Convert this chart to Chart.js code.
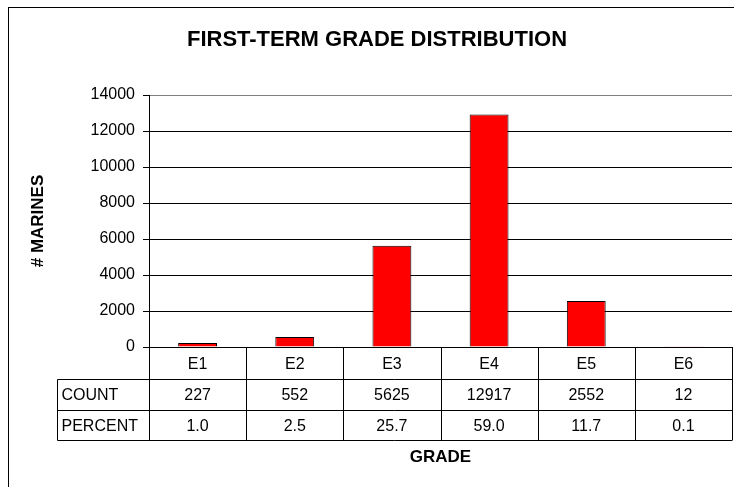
<!DOCTYPE html>
<html>
<head>
<meta charset="utf-8">
<script src="https://cdn.jsdelivr.net/npm/chart.js@4.4.1/dist/chart.umd.min.js"></script>
<style>
  html, body { margin: 0; padding: 0; background: #ffffff; }
  #wrap { position: relative; width: 734px; height: 487px; }
</style>
</head>
<body>
<div id="wrap"><canvas id="gradeChart" width="734" height="487"></canvas></div>
<script>
// data
const grades = ['E1', 'E2', 'E3', 'E4', 'E5', 'E6'];
const counts = [227, 552, 5625, 12917, 2552, 12];
const percents = ['1.0', '2.5', '25.7', '59.0', '11.7', '0.1'];
const rowLabels = ['COUNT', 'PERCENT'];
const yTicks = [0, 2000, 4000, 6000, 8000, 10000, 12000, 14000];

const FONT = '"Liberation Sans", Arial, sans-serif';

// draws title, axis titles, frame and the data table under the plot
const tablePlugin = {
    id: 'dataTable',
    afterDraw(chart) {
        const ctx = chart.ctx;
        const area = chart.chartArea;
        const xs = chart.scales.x;
        const n = grades.length;
        const colW = (area.right - area.left) / n;
        const labelLeft = 57.5;
        const rowTops = [area.bottom, 379.5, 410.5, 440.5];

        ctx.save();
        ctx.strokeStyle = '#000';
        ctx.lineWidth = 1;

        // outer frame (cut off at right/bottom like the picture)
        ctx.strokeRect(8.5, 7.5, 800, 600);

        // table lines
        ctx.beginPath();
        ctx.moveTo(labelLeft, rowTops[1]); ctx.lineTo(area.right, rowTops[1]);
        ctx.moveTo(labelLeft, rowTops[2]); ctx.lineTo(area.right, rowTops[2]);
        ctx.moveTo(labelLeft, rowTops[3]); ctx.lineTo(area.right, rowTops[3]);
        ctx.moveTo(labelLeft, rowTops[1]); ctx.lineTo(labelLeft, rowTops[3]);
        for (let i = 0; i <= n; i++) {
            const x = Math.round(area.left + i * colW) + 0.5;
            ctx.moveTo(x, area.bottom); ctx.lineTo(x, rowTops[3]);
        }
        ctx.stroke();

        // cell text
        ctx.fillStyle = '#000';
        ctx.font = '16px ' + FONT;
        ctx.textBaseline = 'middle';
        ctx.textAlign = 'center';
        grades.forEach((g, i) => {
            const cx = xs.getPixelForValue(i);
            ctx.fillText(g, cx, (rowTops[0] + rowTops[1]) / 2 + 1);
            ctx.fillText(String(counts[i]), cx, (rowTops[1] + rowTops[2]) / 2 + 1);
            ctx.fillText(percents[i], cx, (rowTops[2] + rowTops[3]) / 2 + 1);
        });
        ctx.textAlign = 'left';
        ctx.fillText(rowLabels[0], labelLeft + 4, (rowTops[1] + rowTops[2]) / 2 + 1);
        ctx.fillText(rowLabels[1], labelLeft + 4, (rowTops[2] + rowTops[3]) / 2 + 1);

        // titles
        ctx.textAlign = 'center';
        ctx.font = 'bold 22px ' + FONT;
        ctx.fillText('FIRST-TERM GRADE DISTRIBUTION', 377, 40);
        ctx.font = 'bold 17px ' + FONT;
        ctx.fillText('GRADE', (area.left + area.right) / 2, 457);

        ctx.translate(38, (area.top + area.bottom) / 2);
        ctx.rotate(-Math.PI / 2);
        ctx.fillText('# MARINES', 0, 0);
        ctx.restore();
    }
};

new Chart(document.getElementById('gradeChart'), {
    type: 'bar',
    data: {
        labels: grades,
        datasets: [{
            data: counts,
            backgroundColor: '#ff0000',
            borderColor: '#000000',
            borderWidth: 1,
            barPercentage: 0.4,
            categoryPercentage: 1.0
        }]
    },
    options: {
        responsive: false,
        animation: false,
        devicePixelRatio: 1,
        layout: { padding: { left: 0, top: 95, right: 2, bottom: 140 } },
        plugins: {
            legend: { display: false },
            title: { display: false },
            tooltip: { enabled: false }
        },
        scales: {
            x: {
                grid: { display: false, drawTicks: false },
                ticks: { display: false },
                border: { display: true, color: '#000', width: 1 },
                afterFit: (s) => { s.height = 0; }
            },
            y: {
                min: 0,
                max: 14000,
                afterBuildTicks: (s) => { s.ticks = yTicks.map(v => ({ value: v })); },
                ticks: {
                    color: '#000',
                    padding: 8,
                    font: { family: FONT, size: 16 },
                    callback: (v) => String(v)
                },
                grid: {
                    color: (c) => (c.tick && c.tick.value === 14000) ? '#808080' : '#000',
                    tickColor: '#000',
                    tickLength: 6,
                    lineWidth: 1
                },
                border: { display: true, color: '#000', width: 1 },
                afterFit: (s) => { s.width = 149; }
            }
        }
    },
    plugins: [tablePlugin]
});
</script>
</body>
</html>
